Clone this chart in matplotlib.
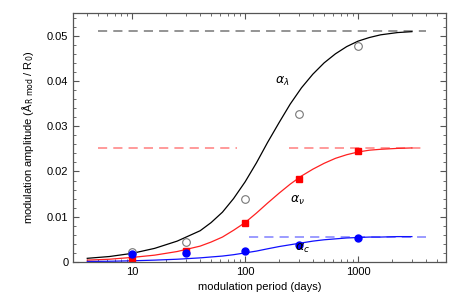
import numpy as np
import matplotlib
matplotlib.use("Agg")
import matplotlib.pyplot as plt
from matplotlib.ticker import FixedLocator, MultipleLocator, FuncFormatter

plt.rcParams['font.family'] = ['Liberation Sans', 'DejaVu Sans']

# measured points
periods = [10, 30, 100, 300, 1000]
alpha_lambda_pts = [0.0022, 0.0044, 0.0139, 0.0328, 0.0478]
alpha_nu_pts = [0.0007, 0.0025, 0.0086, 0.0183, 0.0245]
alpha_c_pts = [0.0018, 0.0020, 0.0024, 0.0038, 0.0053]

# model curves
curve_x = [4, 6.3, 10, 15.8, 25, 40, 50, 63, 79, 100, 126, 158, 200, 251, 316, 398,
           501, 631, 794, 1000, 1259, 1585, 2239, 3000]
lam_y = [0.0008, 0.0012, 0.0019, 0.0030, 0.0046, 0.0069, 0.0087, 0.0110, 0.0140, 0.0177,
         0.0219, 0.0264, 0.0308, 0.0349, 0.0385, 0.0415, 0.0440, 0.0460, 0.0476, 0.0488,
         0.0496, 0.0502, 0.0507, 0.0509]
nu_y = [0.0004, 0.0006, 0.0010, 0.0015, 0.0023, 0.0035, 0.0044, 0.0055, 0.0070, 0.0087,
        0.0108, 0.0130, 0.0152, 0.0172, 0.0190, 0.0205, 0.0218, 0.0229, 0.0237, 0.0243,
        0.0247, 0.0249, 0.0251, 0.0252]
c_y = [0.0001, 0.00015, 0.00025, 0.0004, 0.0006, 0.0009, 0.0011, 0.0013, 0.0016, 0.0020,
       0.0024, 0.0029, 0.0034, 0.0038, 0.0042, 0.0046, 0.0049, 0.0051, 0.0053, 0.0054,
       0.0055, 0.0055, 0.0056, 0.0056]

# asymptotic levels
lam_inf = 0.0511
nu_inf = 0.0252
c_inf = 0.0056

fig = plt.figure(figsize=(4.63, 2.98), dpi=100)
ax = fig.add_axes([0.158, 0.121, 0.805, 0.835])

ax.plot([5, 4000], [lam_inf, lam_inf], color='#777777', lw=1.1, dashes=(6, 4))
ax.plot([5, 85], [nu_inf, nu_inf], color='#ff7f7f', lw=1.1, dashes=(6, 4))
ax.plot([245, 4000], [nu_inf, nu_inf], color='#ff7f7f', lw=1.1, dashes=(6, 4))
ax.plot([108, 4000], [c_inf, c_inf], color='#8080ff', lw=1.1, dashes=(6, 4))

ax.plot(curve_x, lam_y, color='black', lw=0.9)
ax.plot(curve_x, nu_y, color='#ff2020', lw=0.9)
ax.plot(curve_x, c_y, color='#1010ff', lw=0.9)

ax.plot(periods, alpha_lambda_pts, 'o', mfc='none', mec='#777777', ms=5.5, mew=0.8)
ax.plot(periods, alpha_nu_pts, 's', color='#ff0000', ms=5)
ax.plot(periods, alpha_c_pts, 'o', color='#0000ff', ms=5)

ax.text(215, 0.0400, r'$\alpha_\lambda$', fontsize=9, ha='center', va='center')
ax.text(290, 0.0137, r'$\alpha_\nu$', fontsize=9, ha='center', va='center')
ax.text(325, 0.0030, r'$\alpha_c$', fontsize=9, ha='center', va='center')

ax.set_xscale('log')
ax.set_xlim(3, 6000)
ax.set_ylim(0, 0.055)
ax.xaxis.set_major_locator(FixedLocator([10, 100, 1000]))
ax.xaxis.set_major_formatter(FuncFormatter(lambda v, p: '%d' % v))
ax.yaxis.set_major_locator(MultipleLocator(0.01))
ax.yaxis.set_minor_locator(MultipleLocator(0.002))
ax.yaxis.set_major_formatter(FuncFormatter(lambda v, p: '0' if abs(v) < 1e-9 else '%g' % v))

for s in ax.spines.values():
    s.set_color('#555555')
    s.set_linewidth(0.9)
ax.tick_params(which='both', direction='in', top=True, right=True, colors='#555555',
               labelcolor='black', labelsize=8)
ax.tick_params(which='major', length=4)
ax.tick_params(which='minor', length=2)

ax.set_xlabel('modulation period (days)', fontsize=8, labelpad=4)
ax.set_ylabel(r'modulation amplitude (Å$_{\mathrm{R\ mod}}$ / R$_0$)', fontsize=8, labelpad=8)

fig.savefig('out.png', dpi=100)
